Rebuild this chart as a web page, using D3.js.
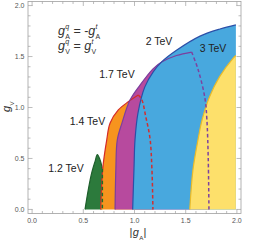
<!DOCTYPE html>
<html><head><meta charset="utf-8">
<script src="https://cdn.jsdelivr.net/npm/d3@7"></script>
<style>body{margin:0;background:#fff}svg{display:block}text{font-family:"Liberation Sans",Arial,sans-serif}</style>
</head><body><svg id="c" width="266" height="240"></svg>
<script>
// ---- data (x = |g_A|, y = g_V) ----
const xTicks = [0, 0.5, 1.0, 1.5, 2.0];
const yTicks = [0, 0.5, 1.0, 1.5, 2.0];
const tickLabels = ["0.0", "0.5", "1.0", "1.5", "2.0"];
const masses = ["1.2 TeV", "1.4 TeV", "1.7 TeV", "2 TeV", "3 TeV"];

const green = [[0.517,0],[0.549,0.195],[0.582,0.358],[0.615,0.471],[0.637,0.537],[0.663,0.488],[0.686,0.40]];
const greenDash = [[0.686,0.40],[0.686,0]];
const orange = [[0.67,0],[0.69,0.40],[0.729,0.683],[0.761,0.846],[0.842,0.976],[0.94,1.057],[1.037,1.122]];
const orangeDash = [[1.037,1.122],[1.07,1.08],[1.112,0.90],[1.151,0.70],[1.17,0.40],[1.18,0]];
const magenta = [[0.81,0],[0.818,0.40],[0.832,0.683],[0.878,0.849],[0.956,1.073],[1.054,1.22],[1.183,1.382],[1.265,1.447],[1.41,1.51],[1.558,1.544]];
const magentaDash = [[1.558,1.544],[1.623,1.366],[1.688,1.09],[1.707,0.878],[1.72,0.5],[1.727,0]];
const blue = [[0.982,0],[0.995,0.40],[1.005,0.683],[1.034,0.946],[1.10,1.2],[1.183,1.349],[1.265,1.447],[1.41,1.561],[1.64,1.70],[1.834,1.77],[1.99,1.81]];
const yellow = [[1.54,0],[1.571,0.39],[1.62,0.683],[1.66,0.878],[1.733,1.105],[1.83,1.30],[1.96,1.48],[1.99,1.51]];
const xMax = 1.99;

const svg = d3.select("#c");
const x = d3.scaleLinear([-0.04, 2.04], [28, 241]);
const y = d3.scaleLinear([-0.04, 2.04], [213.5, 1.5]);
const line = d3.line().x(d => x(d[0])).y(d => y(d[1])).curve(d3.curveCatmullRom.alpha(0.5));
const straight = d3.line().x(d => x(d[0])).y(d => y(d[1]));

const layers = [
  {pts: green, close: greenDash.slice(1), fill: "#2c7a3c", stroke: "#1e5f2c"},
  {pts: orange, close: orangeDash, fill: "#f7941e", stroke: "#d42b28"},
  {pts: magenta, close: magentaDash, fill: "#b74a9e", stroke: "#7b3f9e"},
  {pts: blue, close: [[xMax, 0]], fill: "#48a8de", stroke: "#2b4fa8"},
  {pts: yellow, close: [[xMax, 0]], fill: "#fde06b", stroke: "#e9bb2a"}
];
// fills
layers.forEach(L => {
  let d = line(L.pts);
  if (L.close.length > 1) d += line(L.close).replace(/^M/, "L");
  else d += "L" + x(L.close[0][0]) + "," + y(L.close[0][1]);
  d += "L" + x(L.pts[0][0]) + "," + y(0) + "Z";
  svg.append("path").attr("d", d).attr("fill", L.fill).attr("stroke", "none");
});
// solid outlines
layers.forEach(L => {
  svg.append("path").attr("d", line(L.pts)).attr("fill", "none")
    .attr("stroke", L.stroke).attr("stroke-width", 1.2);
});
// dashed outlines
[[greenDash, "#1e6b2c"], [orangeDash, "#d22f2f"], [magentaDash, "#7d42a0"]].forEach(([p, c]) => {
  svg.append("path").attr("d", (p.length > 2 ? line : straight)(p)).attr("fill", "none")
    .attr("stroke", c).attr("stroke-width", 1.5).attr("stroke-dasharray", "3.5,2.5");
});

// frame
const fc = "#a0a0a0";
svg.append("rect").attr("x", x.range()[0]).attr("y", y.range()[1])
  .attr("width", x.range()[1] - x.range()[0]).attr("height", y.range()[0] - y.range()[1])
  .attr("fill", "none").attr("stroke", fc).attr("stroke-width", 0.8);
const minor = d3.range(0, 2.0001, 0.1);
minor.forEach(v => {
  const major = Math.abs(v * 2 - Math.round(v * 2)) < 1e-6;
  const len = major ? 4.5 : 2.5;
  const X = x(v), Y = y(v);
  const g = svg.append("g").attr("stroke", fc).attr("stroke-width", 0.7);
  g.append("line").attr("x1", X).attr("x2", X).attr("y1", y.range()[0]).attr("y2", y.range()[0] - len);
  g.append("line").attr("x1", X).attr("x2", X).attr("y1", y.range()[1]).attr("y2", y.range()[1] + len);
  g.append("line").attr("y1", Y).attr("y2", Y).attr("x1", x.range()[0]).attr("x2", x.range()[0] + len);
  g.append("line").attr("y1", Y).attr("y2", Y).attr("x1", x.range()[1]).attr("x2", x.range()[1] - len);
});
xTicks.forEach((v, i) => svg.append("text").attr("x", x(v)).attr("y", 222.5).attr("text-anchor", "middle")
  .attr("font-size", 7).attr("fill", "#555").text(tickLabels[i]));
yTicks.forEach((v, i) => svg.append("text").attr("x", 24.5).attr("y", y(v) + 2.5).attr("text-anchor", "end")
  .attr("font-size", 7).attr("fill", "#555").text(tickLabels[i]));

// mass labels
const labelPos = [[66, 171.5], [87.5, 125], [117, 78], [159, 45], [213, 51.5]];
masses.forEach((m, i) => svg.append("text").attr("x", labelPos[i][0]).attr("y", labelPos[i][1])
  .attr("text-anchor", "middle").attr("font-size", 10.5).attr("fill", "#222").text(m));

// g with sub/superscripts
function gsym(parent, x0, y0, size, sub, sup, color) {
  const g = parent.append("text").attr("x", x0).attr("y", y0).attr("font-size", size)
    .attr("font-style", "italic").attr("fill", color).text("g");
  const w = g.node().getComputedTextLength();
  let w2 = 0;
  if (sub) { const t = parent.append("text").attr("x", x0 + w + 0.3).attr("y", y0 + size * 0.34)
      .attr("font-size", size * 0.56).attr("fill", color).text(sub);
    w2 = Math.max(w2, t.node().getComputedTextLength()); }
  if (sup) { const t = parent.append("text").attr("x", x0 + w + 0.3).attr("y", y0 - size * 0.42)
      .attr("font-size", size * 0.56).attr("font-style", "italic").attr("fill", color).text(sup);
    w2 = Math.max(w2, t.node().getComputedTextLength()); }
  return x0 + w + 0.3 + w2;
}
function plain(parent, x0, y0, size, s, color) {
  const t = parent.append("text").attr("x", x0).attr("y", y0).attr("font-size", size)
    .attr("fill", color).attr("xml:space", "preserve").style("white-space", "pre").text(s);
  return x0 + t.node().getComputedTextLength();
}
const ec = "#333", es = 12.5;
let cx = gsym(svg, 58, 34.5, es, "A", "q", ec);
cx = plain(svg, cx, 34.5, es, " = -", ec);
gsym(svg, cx, 34.5, es, "A", "t", ec);
cx = gsym(svg, 58, 49.5, es, "V", "q", ec);
cx = plain(svg, cx, 49.5, es, " = ", ec);
gsym(svg, cx, 49.5, es, "V", "t", ec);

// axis titles
const xt = svg.append("g");
let ax = plain(xt, 129.5, 236, 11, "|", "#333");
ax = gsym(xt, ax + 0.5, 236, 11, "A", null, "#333");
plain(xt, ax, 236, 11, "|", "#333");
const yt = svg.append("g").attr("transform", "translate(10,112) rotate(-90)");
gsym(yt, 0, 0, 11, "V", null, "#333");
</script></body></html>
